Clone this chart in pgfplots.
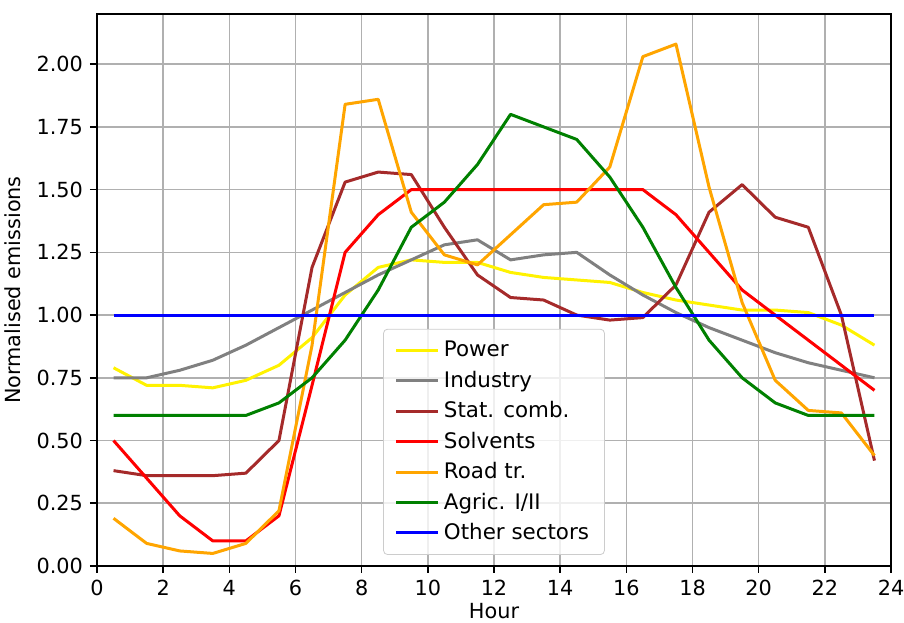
\documentclass[border=0pt]{standalone}
\usepackage{fontspec}
\setmainfont{DejaVu Sans}
\usepackage{pgfplots}
\usepackage{pgfplotstable}
\pgfplotsset{compat=1.18}
\definecolor{mplbrown}{rgb}{0.647,0.165,0.165}
\definecolor{mplorange}{rgb}{1,0.647,0}
\definecolor{mplgreen}{rgb}{0,0.5,0}
\definecolor{mplgray}{rgb}{0.5,0.5,0.5}
\pgfplotstableread{
h    power industry stat  solv  road  agric other
0.5  0.79  0.75     0.38  0.50  0.19  0.60  1.00
1.5  0.72  0.75     0.36  0.35  0.09  0.60  1.00
2.5  0.72  0.78     0.36  0.20  0.06  0.60  1.00
3.5  0.71  0.82     0.36  0.10  0.05  0.60  1.00
4.5  0.74  0.88     0.37  0.10  0.09  0.60  1.00
5.5  0.80  0.95     0.50  0.20  0.22  0.65  1.00
6.5  0.91  1.02     1.19  0.72  0.88  0.75  1.00
7.5  1.08  1.09     1.53  1.25  1.84  0.90  1.00
8.5  1.19  1.16     1.57  1.40  1.86  1.10  1.00
9.5  1.22  1.22     1.56  1.50  1.41  1.35  1.00
10.5 1.21  1.28     1.35  1.50  1.24  1.45  1.00
11.5 1.21  1.30     1.16  1.50  1.20  1.60  1.00
12.5 1.17  1.22     1.07  1.50  1.32  1.80  1.00
13.5 1.15  1.24     1.06  1.50  1.44  1.75  1.00
14.5 1.14  1.25     1.00  1.50  1.45  1.70  1.00
15.5 1.13  1.16     0.98  1.50  1.59  1.55  1.00
16.5 1.09  1.08     0.99  1.50  2.03  1.35  1.00
17.5 1.06  1.01     1.12  1.40  2.08  1.11  1.00
18.5 1.04  0.95     1.41  1.25  1.51  0.90  1.00
19.5 1.02  0.90     1.52  1.10  1.05  0.75  1.00
20.5 1.02  0.85     1.39  1.00  0.74  0.65  1.00
21.5 1.01  0.81     1.35  0.90  0.62  0.60  1.00
22.5 0.96  0.78     1.00  0.80  0.61  0.60  1.00
23.5 0.88  0.75     0.42  0.70  0.44  0.60  1.00
}\datatable
\begin{document}
\begin{tikzpicture}
\begin{axis}[
  scale only axis, width=397pt, height=276pt,
  xmin=0, xmax=24, ymin=0, ymax=2.2,
  xtick={0,2,4,6,8,10,12,14,16,18,20,22,24},
  ytick={0,0.25,0.5,0.75,1,1.25,1.5,1.75,2},
  yticklabel style={/pgf/number format/.cd, fixed, fixed zerofill, precision=2},
  /pgf/number format/assume math mode=true,
  tick label style={font=\fontsize{10.4}{12}\selectfont},
  label style={font=\fontsize{10.4}{12}\selectfont},
  xlabel style={yshift=3pt},
  ylabel style={yshift=1pt},
  grid=major, grid style={color=black!31, line width=0.8pt},
  tick align=outside, major tick length=3.5pt,
  tick style={black, line width=0.8pt},
  axis line style={line width=0.8pt, black},
  xtick pos=bottom, ytick pos=left,
  xlabel={Hour}, ylabel={Normalised emissions},
  every axis plot/.append style={line width=1.5pt, line join=round},
  legend cell align=left,
  legend style={at={(0.5,0.02)}, anchor=south, font=\fontsize{10.7}{12}\selectfont,
    draw=black!20, rounded corners=2pt, fill=white, fill opacity=0.8, text opacity=1,
    row sep=1.6pt, inner xsep=5.7pt, inner ysep=4pt},
  legend image code/.code={\draw[#1] (0pt,0pt) -- (21pt,0pt);},
]
\addplot[yellow] table[x=h,y=power]{\datatable};
\addlegendentry{Power}
\addplot[mplgray] table[x=h,y=industry]{\datatable};
\addlegendentry{Industry}
\addplot[mplbrown] table[x=h,y=stat]{\datatable};
\addlegendentry{Stat. comb.}
\addplot[red] table[x=h,y=solv]{\datatable};
\addlegendentry{Solvents}
\addplot[mplorange] table[x=h,y=road]{\datatable};
\addlegendentry{Road tr.}
\addplot[mplgreen] table[x=h,y=agric]{\datatable};
\addlegendentry{Agric. I/II}
\addplot[blue] table[x=h,y=other]{\datatable};
\addlegendentry{Other sectors}
\end{axis}
\pgfresetboundingbox
\path[use as bounding box] ([shift={(-48.5pt,-28.5pt)}]current axis.south west) rectangle ([shift={(6.5pt,7pt)}]current axis.north east);
\end{tikzpicture}
\end{document}
